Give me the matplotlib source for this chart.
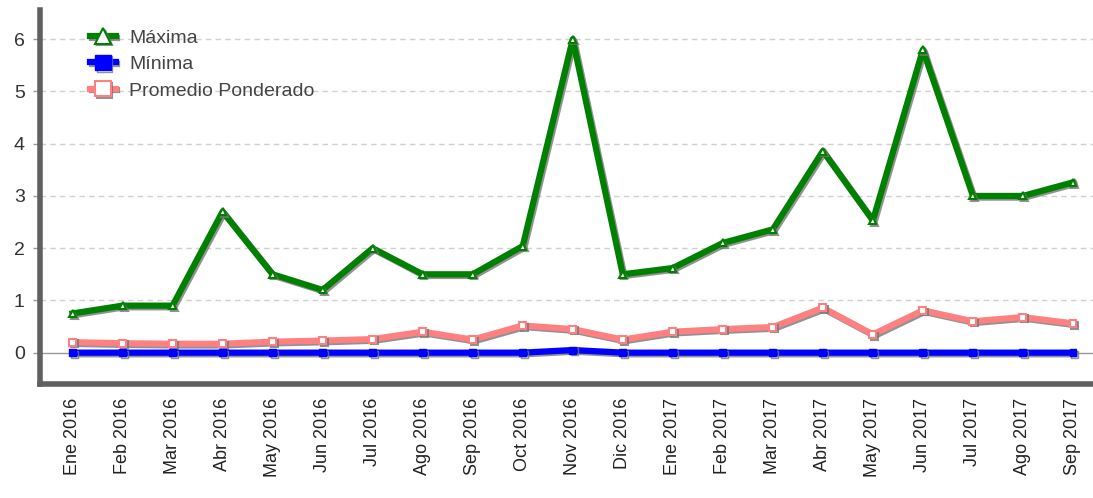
import matplotlib.pyplot as plt
import matplotlib.patheffects as pe

plt.rcParams['font.family'] = ['Liberation Sans', 'DejaVu Sans']

meses = ['Ene 2016', 'Feb 2016', 'Mar 2016', 'Abr 2016', 'May 2016', 'Jun 2016',
         'Jul 2016', 'Ago 2016', 'Sep 2016', 'Oct 2016', 'Nov 2016', 'Dic 2016',
         'Ene 2017', 'Feb 2017', 'Mar 2017', 'Abr 2017', 'May 2017', 'Jun 2017',
         'Jul 2017', 'Ago 2017', 'Sep 2017']
maxima = [0.75, 0.9, 0.9, 2.7, 1.5, 1.2, 2.0, 1.5, 1.5, 2.04, 6.0, 1.5,
          1.62, 2.1, 2.36, 3.86, 2.53, 5.8, 3.0, 3.0, 3.26]
minima = [0.0, 0.0, 0.0, 0.0, 0.0, 0.0, 0.0, 0.0, 0.0, 0.0, 0.05, 0.0,
          0.0, 0.0, 0.0, 0.0, 0.0, 0.0, 0.0, 0.0, 0.0]
promedio = [0.2, 0.18, 0.17, 0.17, 0.21, 0.23, 0.26, 0.4, 0.25, 0.52, 0.45, 0.25,
            0.4, 0.45, 0.49, 0.86, 0.35, 0.81, 0.6, 0.68, 0.56]
yticks = [0, 1, 2, 3, 4, 5, 6]

fig = plt.figure(figsize=(10.93, 4.98), dpi=100)
ax = fig.add_axes([40 / 1093, 1 - 384 / 498, 1 - 40 / 1093, 374 / 498])

x = list(range(len(meses)))
# grey drop shadow under each line, like the original chart
shadow = [pe.SimpleLineShadow(offset=(1.2, -1.2), shadow_color='#777777', alpha=0.8), pe.Normal()]

ax.plot(x, maxima, color='#008000', lw=4.5, marker='^', ms=5, mfc='white', mec='#008000',
        mew=1.5, label='Máxima', path_effects=shadow, zorder=5)
ax.plot(x, minima, color='#0000ff', lw=4.5, marker='s', ms=5, mfc='#0000ff', mec='#0000ff',
        label='Mínima', path_effects=shadow, zorder=4)
ax.plot(x, promedio, color='#ff8080', lw=4.5, marker='s', ms=5, mfc='white', mec='#ff8080',
        mew=1.5, label='Promedio Ponderado', path_effects=shadow, zorder=3)

ax.axhline(0, color='#999999', lw=1, zorder=1)
ax.set_ylim(-0.6, 6.56)
ax.set_xlim(-0.65, 20.4)
ax.set_yticks(yticks)
ax.set_yticklabels([str(v) for v in yticks])
for v in yticks[1:]:
    ax.axhline(v, color='#d0d0d0', lw=1, ls=(0, (4, 3)), zorder=0)

ax.set_xticks(x)
ax.set_xticklabels(meses, rotation=90, va='top', ha='center')
ax.tick_params(axis='x', length=0, pad=10, labelsize=13, labelcolor='#222222')
ax.tick_params(axis='y', length=5, width=1, color='#999999', pad=6, labelsize=14,
               labelcolor='#333333')

for side in ['top', 'right']:
    ax.spines[side].set_visible(False)
for side in ['left', 'bottom']:
    ax.spines[side].set_color('#606060')
    ax.spines[side].set_linewidth(4)

leg = ax.legend(loc='upper left', bbox_to_anchor=(0.035, 0.985), frameon=False, fontsize=14,
                handlelength=1.3, handletextpad=0.7, labelspacing=0.45, borderaxespad=0.3,
                markerscale=2.2)
for t in leg.get_texts():
    t.set_color('#444444')

fig.savefig('out.png', dpi=100)
